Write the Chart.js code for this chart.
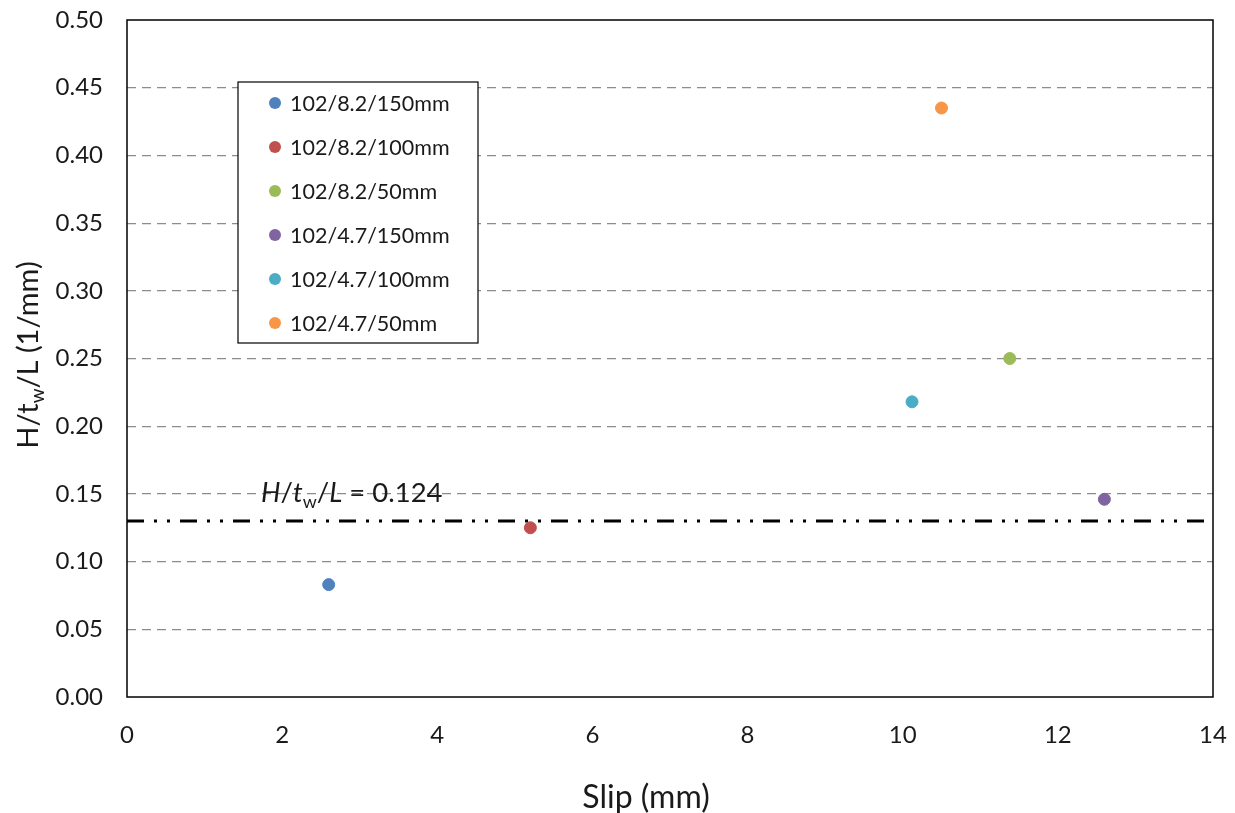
<!DOCTYPE html>
<html>
<head>
<meta charset="utf-8">
<script src="https://cdn.jsdelivr.net/npm/chart.js@4.4.0/dist/chart.umd.min.js"></script>
<style>
  html, body { margin: 0; padding: 0; background: #fff; }
  #wrap { width: 1235px; height: 813px; }
</style>
</head>
<body>
<div id="wrap"><canvas id="chart" width="1235" height="813"></canvas></div>
<script>
// series, one point each
const seriesNames = ["102/8.2/150mm", "102/8.2/100mm", "102/8.2/50mm", "102/4.7/150mm", "102/4.7/100mm", "102/4.7/50mm"];
const slip = [2.6, 5.2, 11.38, 12.6, 10.12, 10.5];
const ratio = [0.083, 0.125, 0.25, 0.146, 0.218, 0.435];
const colors = ["#4F81BD", "#C0504D", "#9BBB59", "#8064A2", "#4BACC6", "#F79646"];

// reference line
const refX = [0, 14];
const refY = [0.13, 0.13];
const refLabel = "0.124";

const FONT = "Lato, 'Open Sans', sans-serif";
const TXT = "#1a1a1a";

const datasets = seriesNames.map((name, i) => ({
  label: name,
  data: [{ x: slip[i], y: ratio[i] }],
  backgroundColor: colors[i],
  borderColor: colors[i],
  pointRadius: 6,
  pointHoverRadius: 6,
  order: 1
}));

datasets.push({
  type: "line",
  label: "ref",
  data: refX.map((x, i) => ({ x: x, y: refY[i] })),
  borderColor: "#000",
  borderWidth: 3,
  borderDash: [17, 10, 3, 10, 3, 10],
  pointRadius: 0,
  fill: false,
  order: 10
});

// text pieces with italic / subscript: [{t, italic, sub}]
function drawRich(ctx, parts, x, y, size) {
  let cx = x;
  parts.forEach(p => {
    const s = p.sub ? size * 0.65 : size;
    ctx.font = (p.italic ? "italic " : "") + s + "px " + FONT;
    ctx.fillText(p.t, cx, p.sub ? y + size * 0.22 : y);
    cx += ctx.measureText(p.t).width;
  });
  return cx - x;
}
function richWidth(ctx, parts, size) {
  let w = 0;
  parts.forEach(p => {
    const s = p.sub ? size * 0.65 : size;
    ctx.font = (p.italic ? "italic " : "") + s + "px " + FONT;
    w += ctx.measureText(p.t).width;
  });
  return w;
}

const extras = {
  id: "extras",
  beforeDatasetsDraw(chart) {
    const { ctx, chartArea: a } = chart;
    ctx.save();
    ctx.strokeStyle = "#000";
    ctx.lineWidth = 1.5;
    ctx.strokeRect(a.left, a.top, a.right - a.left, a.bottom - a.top);
    ctx.restore();
  },
  afterDraw(chart) {
    const { ctx, scales } = chart;
    ctx.save();
    ctx.fillStyle = TXT;
    ctx.textBaseline = "alphabetic";

    // x title
    ctx.font = "32px " + FONT;
    ctx.textAlign = "center";
    ctx.fillText("Slip (mm)", 646, 808);

    // y title, rotated
    const yParts = [{ t: "H/t" }, { t: "w", sub: true }, { t: "/L (1/mm)" }];
    ctx.textAlign = "left";
    const yw = richWidth(ctx, yParts, 29);
    ctx.translate(38, 355);
    ctx.rotate(-Math.PI / 2);
    drawRich(ctx, yParts, -yw / 2, 0, 29);
    ctx.setTransform(1, 0, 0, 1, 0, 0);

    // reference label
    const ly = scales.y.getPixelForValue(refY[0]) - 19;
    drawRich(ctx, [
      { t: "H", italic: true }, { t: "/" }, { t: "t", italic: true }, { t: "w", sub: true },
      { t: "/" }, { t: "L", italic: true }, { t: " = " + refLabel }
    ], 261, ly, 27.5);

    // legend box
    const bx = 238, by = 82, bw = 240, bh = 261;
    ctx.fillStyle = "#fff";
    ctx.fillRect(bx, by, bw, bh);
    ctx.strokeStyle = "#000";
    ctx.lineWidth = 1.2;
    ctx.strokeRect(bx, by, bw, bh);
    ctx.font = "21.5px " + FONT;
    ctx.textBaseline = "middle";
    seriesNames.forEach((name, i) => {
      const yy = 103 + i * 44;
      ctx.fillStyle = colors[i];
      ctx.beginPath();
      ctx.arc(275, yy, 6, 0, Math.PI * 2);
      ctx.fill();
      ctx.fillStyle = TXT;
      ctx.fillText(name, 290, yy + 1);
    });
    ctx.restore();
  }
};

new Chart(document.getElementById("chart"), {
  type: "scatter",
  data: { datasets: datasets },
  options: {
    responsive: false,
    animation: false,
    layout: { padding: { top: 20, right: 22, left: 0, bottom: 0 } },
    plugins: { legend: { display: false }, tooltip: { enabled: false } },
    scales: {
      x: {
        type: "linear",
        min: 0, max: 14,
        afterFit: s => { s.height = 116; s.paddingLeft = 0; s.paddingRight = 0; },
        ticks: { stepSize: 2, color: TXT, font: { family: FONT, size: 24 }, padding: 24 },
        grid: { display: false, drawTicks: false },
        border: { display: false }
      },
      y: {
        min: 0, max: 0.5,
        afterFit: s => { s.width = 127; s.paddingTop = 0; s.paddingBottom = 0; },
        ticks: {
          stepSize: 0.05, color: TXT, font: { family: FONT, size: 24 }, padding: 24,
          callback: v => v.toFixed(2)
        },
        grid: {
          drawTicks: false,
          color: c => (c.tick.value <= 0.0001 || c.tick.value >= 0.4999) ? "rgba(0,0,0,0)" : "#8c8c8c",
          lineWidth: 1.2
        },
        border: { display: false, dash: [9, 6] }
      }
    }
  },
  plugins: [extras]
});
</script>
</body>
</html>
